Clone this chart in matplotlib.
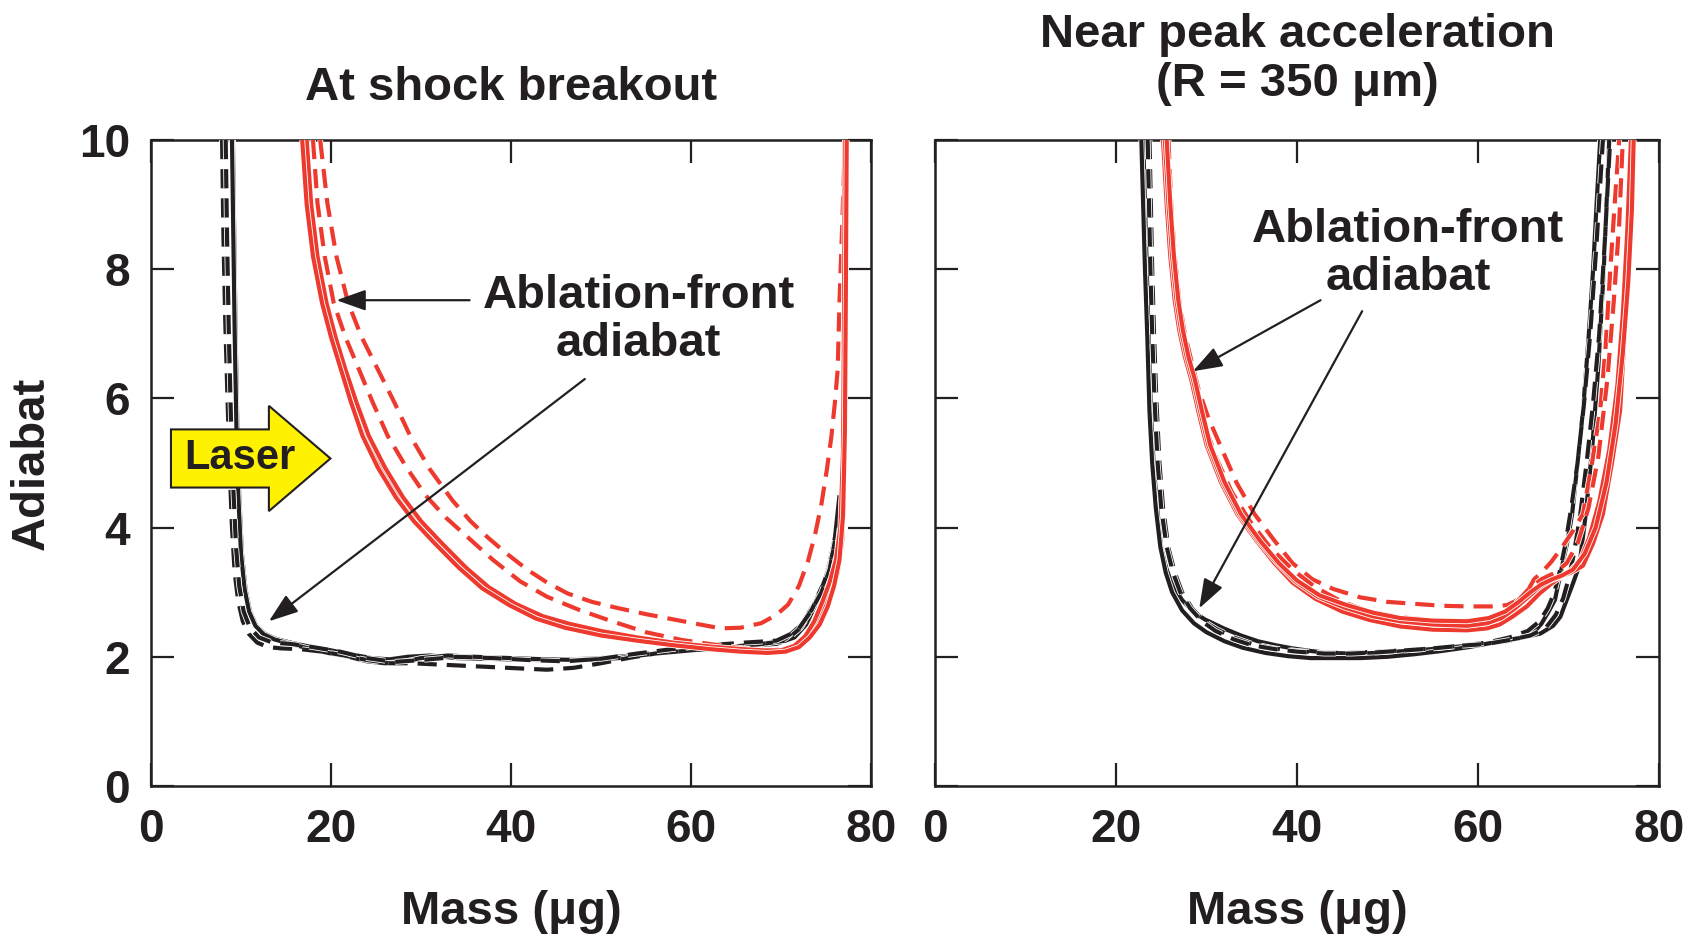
import matplotlib
matplotlib.use("Agg")
import matplotlib.pyplot as plt
import matplotlib.patheffects as pe
from matplotlib.patches import FancyArrow

plt.rcParams['font.family'] = ['Liberation Sans', 'DejaVu Sans']
plt.rcParams['font.weight'] = 'bold'

BLACK = '#231F20'
RED = '#EE3A2E'
YELLOW = '#FFF200'

# ---------------- data ----------------
XTICKS = [0, 20, 40, 60, 80]
YTICKS = [0, 2, 4, 6, 8, 10]
TITLE_L = "At shock breakout"
TITLE_R = "Near peak acceleration\n(R = 350 μm)"
XLABEL = "Mass (μg)"
YLABEL = "Adiabat"
ANNOT = "Ablation-front\nadiabat"

# Left panel (at shock breakout)
L_BS1_M = [9.1, 9.25, 9.4, 9.6, 9.8, 10.1, 10.5, 11.0, 11.7, 12.6, 13.8, 15.5, 17.5, 20.0, 22.5, 24.5, 26.5, 28.5,
           31.0, 34.0, 37.0, 40.0, 43.0, 46.0, 49.0, 52.0, 55.0, 58.0, 61.0, 64.0, 67.0, 69.5, 71.5, 72.8, 73.8,
           74.7, 75.4, 76.0, 76.5]
L_BS1_A = [10, 8.5, 7.0, 5.5, 4.5, 3.6, 3.05, 2.7, 2.48, 2.36, 2.28, 2.22, 2.16, 2.1, 2.03, 1.98, 1.96, 2.0,
           2.02, 1.98, 1.97, 1.96, 1.95, 1.96, 1.97, 2.0, 2.05, 2.08, 2.12, 2.15, 2.18, 2.2, 2.3, 2.5, 2.8,
           3.1, 3.45, 3.85, 4.5]
L_BS2_M = [9.0, 9.15, 9.3, 9.5, 9.7, 10.0, 10.4, 10.9, 11.6, 12.5, 13.7, 15.5, 17.5, 20.0, 22.0, 24.0, 26.0, 28.0,
           30.0, 33.0, 36.0, 40.0, 44.0, 48.0, 52.0, 56.0, 60.0, 64.0, 68.0, 70.5, 72.3, 73.6, 74.6, 75.4, 75.9]
L_BS2_A = [10, 8.5, 7.0, 5.5, 4.5, 3.6, 3.05, 2.7, 2.48, 2.35, 2.27, 2.2, 2.13, 2.05, 2.0, 1.93, 1.9, 1.92,
           1.98, 2.02, 2.0, 1.98, 1.96, 1.95, 1.98, 2.05, 2.1, 2.14, 2.2, 2.28, 2.5, 2.8, 3.1, 3.4, 3.7]
L_BD1_M = [7.9, 8.05, 8.25, 8.5, 8.75, 9.0, 9.3, 9.7, 10.2, 10.9, 11.8, 13.0, 14.5, 16.5, 19.0, 21.5, 24.0, 26.5,
           29.0, 32.0, 35.0, 38.0, 41.0, 44.0, 47.0, 50.0, 53.0, 56.0, 60.0, 64.0, 68.0, 70.5, 72.2, 73.5, 74.5,
           75.3, 75.9]
L_BD1_A = [10, 8.5, 7.2, 6.0, 4.9, 4.0, 3.3, 2.85, 2.55, 2.35, 2.22, 2.15, 2.13, 2.12, 2.08, 2.02, 1.95, 1.9,
           1.9, 1.88, 1.86, 1.84, 1.82, 1.8, 1.83, 1.9, 1.98, 2.05, 2.1, 2.15, 2.2, 2.25, 2.45, 2.75, 3.05,
           3.35, 3.7]
L_BD2_M = [8.3, 8.45, 8.65, 8.9, 9.15, 9.45, 9.8, 10.3, 11.0, 12.0, 13.5, 15.5, 18.0, 21.0, 24.0, 27.0, 30.0, 34.0,
           38.0, 42.0, 46.0, 50.0, 54.0, 58.0, 62.0, 66.0, 69.5, 71.8, 73.3, 74.5, 75.4, 76.0]
L_BD2_A = [10, 8.5, 7.0, 5.6, 4.6, 3.7, 3.1, 2.7, 2.45, 2.3, 2.22, 2.2, 2.15, 2.08, 1.98, 1.92, 1.95, 2.0,
           1.98, 1.95, 1.93, 1.97, 2.05, 2.12, 2.18, 2.22, 2.25, 2.4, 2.7, 3.0, 3.35, 3.8]

L_RS1_M = [17.0, 17.5, 18.2, 19.2, 20.2, 21.3, 22.4, 23.8, 25.5, 27.5, 29.5, 31.8, 34.5, 37.0, 40.0, 43.0, 46.0,
           50.0, 54.0, 58.0, 62.0, 65.5, 68.0, 70.0, 71.5, 72.8, 73.8, 74.8, 75.6, 76.3, 76.8, 77.0, 77.1, 77.2]
L_RS1_A = [10, 9.0, 8.2, 7.48, 6.95, 6.45, 5.95, 5.42, 4.93, 4.47, 4.1, 3.76, 3.38, 3.08, 2.82, 2.62, 2.5,
           2.38, 2.28, 2.2, 2.14, 2.1, 2.07, 2.08, 2.15, 2.3, 2.5, 2.75, 3.0, 3.3, 3.8, 5.0, 7.0, 10.0]
L_RS2_M = [17.3, 17.8, 18.5, 19.5, 20.5, 21.6, 22.8, 24.2, 26.0, 28.0, 30.0, 32.3, 35.0, 37.5, 40.5, 43.5, 46.5,
           50.0, 54.0, 58.0, 62.0, 65.5, 68.0, 70.0, 71.5, 72.7, 73.7, 74.6, 75.4, 76.1, 76.6, 76.9, 77.0, 77.1]
L_RS2_A = [10, 9.0, 8.2, 7.48, 6.95, 6.45, 5.95, 5.42, 4.93, 4.47, 4.1, 3.76, 3.38, 3.08, 2.82, 2.63, 2.51,
           2.4, 2.3, 2.22, 2.16, 2.12, 2.1, 2.1, 2.17, 2.32, 2.55, 2.85, 3.15, 3.5, 4.0, 5.2, 7.2, 10.0]
L_RS3_M = [16.8, 17.3, 18.0, 19.0, 20.0, 21.1, 22.2, 23.5, 25.2, 27.2, 29.2, 31.5, 34.2, 36.8, 39.8, 42.8, 46.0,
           50.0, 54.0, 58.0, 62.0, 65.5, 68.5, 70.5, 72.0, 73.2, 74.3, 75.2, 75.9, 76.5, 76.9, 77.1, 77.2, 77.3]
L_RS3_A = [10, 9.0, 8.2, 7.48, 6.95, 6.45, 5.95, 5.42, 4.93, 4.47, 4.1, 3.76, 3.38, 3.06, 2.8, 2.59, 2.45,
           2.33, 2.25, 2.18, 2.12, 2.08, 2.06, 2.08, 2.15, 2.3, 2.5, 2.78, 3.1, 3.5, 4.2, 5.5, 7.5, 10.0]
L_RD1_M = [18.0, 18.5, 19.3, 20.3, 21.6, 23.1, 24.6, 26.3, 28.3, 30.5, 32.8, 35.2, 38.0, 41.0, 44.0, 47.5, 51.0,
           55.0, 59.0, 63.0, 66.5, 69.0, 71.0, 72.5, 73.7, 74.7, 75.5, 76.2, 76.7, 76.9, 77.1, 77.3]
L_RD1_A = [10, 9.02, 8.2, 7.48, 6.95, 6.45, 5.95, 5.42, 4.95, 4.5, 4.15, 3.85, 3.5, 3.17, 2.93, 2.73, 2.56,
           2.38, 2.26, 2.18, 2.12, 2.1, 2.13, 2.28, 2.5, 2.8, 3.15, 3.6, 4.2, 5.5, 7.5, 10.0]
L_RD2_M = [18.8, 19.6, 20.6, 21.9, 23.4, 25.2, 27.0, 28.8, 31.0, 33.5, 35.5, 37.4, 39.5, 41.8, 44.0, 46.3, 49.0,
           52.0, 55.0, 58.0, 61.0, 63.3, 65.5, 67.8, 69.5, 70.8, 72.0, 73.0, 73.8, 74.5, 75.1, 75.6, 76.0, 76.3,
           76.5, 76.8, 77.1]
L_RD2_A = [10, 9.02, 8.2, 7.48, 6.95, 6.45, 5.95, 5.42, 4.9, 4.42, 4.1, 3.85, 3.6, 3.35, 3.15, 2.98, 2.85,
           2.75, 2.66, 2.58, 2.5, 2.44, 2.45, 2.52, 2.65, 2.81, 3.1, 3.48, 3.9, 4.37, 4.9, 5.41, 5.95, 6.45,
           7.5, 8.67, 10.0]

# Right panel (near peak acceleration)
R_BS1_M = [23.0, 23.2, 23.4, 23.6, 23.85, 24.15, 24.55, 25.0, 25.6, 26.2, 27.3, 28.5, 29.8, 31.9, 33.8, 35.7, 37.6,
           39.5, 41.5, 43.5, 46.0, 49.0, 52.0, 55.0, 58.0, 61.0, 63.5, 65.3, 66.3, 67.0, 67.8, 68.5, 69.3, 69.9,
           70.4, 71.0, 71.6, 72.2, 72.7, 73.1, 73.5]
R_BS1_A = [10, 9.0, 8.0, 7.0, 5.8, 5.0, 4.3, 3.68, 3.35, 3.12, 2.88, 2.7, 2.58, 2.44, 2.33, 2.24, 2.18,
           2.13, 2.09, 2.06, 2.05, 2.06, 2.09, 2.12, 2.16, 2.2, 2.25, 2.32, 2.4, 2.51, 2.7, 2.88, 3.41, 3.8,
           4.21, 5.0, 5.81, 6.9, 7.95, 9.0, 10.0]
R_BS2_M = [22.8, 23.0, 23.2, 23.45, 23.7, 24.0, 24.4, 24.9, 25.5, 26.2, 27.3, 28.6, 30.0, 32.0, 34.0, 36.5, 39.0,
           41.5, 44.0, 47.0, 50.0, 53.0, 56.0, 59.0, 62.4, 65.0, 66.9, 68.3, 69.1, 69.8, 70.4, 71.2, 71.9, 72.6,
           73.3, 73.9, 74.5]
R_BS2_A = [10, 9.0, 8.0, 7.0, 5.8, 5.0, 4.3, 3.7, 3.3, 3.0, 2.72, 2.52, 2.38, 2.24, 2.14, 2.06, 2.01,
           1.98, 1.98, 1.98, 2.0, 2.04, 2.09, 2.15, 2.24, 2.3, 2.36, 2.48, 2.62, 2.88, 3.1, 3.41, 4.2, 5.2,
           6.5, 8.0, 10.0]
R_BD1_M = [23.7, 23.85, 24.0, 24.2, 24.45, 24.8, 25.2, 25.8, 26.5, 27.3, 28.4, 29.7, 31.2, 33.0, 35.0, 37.5, 40.0,
           43.0, 46.0, 49.0, 52.0, 55.0, 58.0, 61.0, 63.5, 65.5, 66.8, 67.7, 68.4, 69.0, 69.6, 70.3, 71.0, 71.7,
           72.4, 73.1, 73.8]
R_BD1_A = [10, 9.0, 8.0, 7.0, 6.0, 5.0, 4.3, 3.68, 3.3, 3.0, 2.75, 2.55, 2.42, 2.3, 2.2, 2.13, 2.09,
           2.06, 2.06, 2.08, 2.1, 2.13, 2.17, 2.22, 2.3, 2.4, 2.55, 2.75, 2.98, 3.3, 3.7, 4.3, 5.0, 5.9,
           7.0, 8.4, 10.0]
R_BD2_M = [23.5, 23.65, 23.8, 24.0, 24.25, 24.6, 25.0, 25.6, 26.3, 27.1, 28.2, 29.5, 31.0, 33.0, 35.0, 37.5, 40.0,
           43.0, 46.0, 49.0, 52.0, 55.0, 58.0, 61.0, 63.5, 65.8, 67.5, 68.6, 69.4, 70.0, 70.6, 71.3, 72.0, 72.7,
           73.4, 74.0, 74.6]
R_BD2_A = [10, 9.0, 8.0, 7.0, 6.0, 5.0, 4.3, 3.7, 3.3, 3.0, 2.75, 2.55, 2.4, 2.27, 2.18, 2.12, 2.08,
           2.05, 2.05, 2.07, 2.1, 2.13, 2.17, 2.2, 2.26, 2.33, 2.45, 2.65, 2.9, 3.2, 3.6, 4.2, 5.0, 5.9,
           7.0, 8.4, 10.0]

R_RS1_M = [25.2, 25.6, 26.0, 26.5, 27.0, 27.6, 28.3, 29.1, 30.0, 31.6, 33.4, 35.5, 37.5, 39.5, 42.0, 45.0, 48.0,
           51.4, 55.0, 58.8, 61.0, 62.4, 63.8, 65.4, 66.8, 68.0, 69.3, 70.5, 71.6, 72.7, 73.8, 74.8, 75.7, 76.2,
           76.6, 76.9]
R_RS1_A = [10, 9.0, 8.2, 7.5, 7.05, 6.65, 6.3, 5.8, 5.28, 4.7, 4.21, 3.8, 3.45, 3.15, 2.9, 2.7, 2.57,
           2.47, 2.42, 2.41, 2.44, 2.5, 2.62, 2.78, 2.98, 3.12, 3.25, 3.32, 3.41, 3.75, 4.21, 5.0, 5.81, 7.0,
           8.5, 10.0]
R_RS2_M = [25.4, 25.8, 26.2, 26.7, 27.2, 27.8, 28.5, 29.3, 30.2, 31.8, 33.6, 35.7, 37.8, 39.8, 42.3, 45.3, 48.3,
           51.4, 55.0, 58.8, 61.0, 62.6, 64.0, 65.5, 66.8, 68.0, 69.3, 70.3, 71.3, 72.3, 73.4, 74.5, 75.4, 76.0,
           76.5, 76.9]
R_RS2_A = [10, 9.0, 8.2, 7.5, 7.05, 6.65, 6.3, 5.8, 5.28, 4.7, 4.21, 3.8, 3.45, 3.17, 2.93, 2.76, 2.63,
           2.55, 2.5, 2.48, 2.52, 2.6, 2.74, 2.92, 3.08, 3.18, 3.25, 3.35, 3.5, 3.85, 4.4, 5.2, 6.2, 7.3,
           8.6, 10.0]
R_RS3_M = [25.6, 26.0, 26.4, 26.9, 27.4, 28.0, 28.7, 29.5, 30.4, 32.0, 33.8, 35.9, 38.0, 40.0, 42.5, 45.5, 48.5,
           51.4, 55.0, 58.8, 61.2, 63.0, 64.5, 65.8, 67.0, 68.2, 69.3, 70.5, 71.8, 73.0, 74.2, 75.2, 76.0, 76.6,
           77.0, 77.2]
R_RS3_A = [10, 9.0, 8.2, 7.5, 7.05, 6.65, 6.3, 5.8, 5.28, 4.7, 4.21, 3.8, 3.45, 3.18, 2.95, 2.8, 2.68,
           2.6, 2.56, 2.55, 2.6, 2.7, 2.85, 3.0, 3.12, 3.2, 3.26, 3.35, 3.6, 4.0, 4.7, 5.6, 6.7, 7.8,
           8.9, 10.0]
R_RD1_M = [25.8, 26.1, 26.5, 27.0, 27.6, 28.3, 29.1, 30.2, 31.5, 33.3, 35.3, 37.5, 39.5, 41.7, 44.0, 47.0, 50.0,
           53.0, 56.0, 58.8, 61.5, 63.2, 64.4, 65.4, 66.2, 67.2, 68.1, 69.3, 70.5, 71.6, 72.6, 73.5, 74.1, 74.6,
           75.1, 75.6]
R_RD1_A = [10, 9.0, 8.2, 7.5, 7.0, 6.6, 6.15, 5.7, 5.28, 4.7, 4.21, 3.8, 3.45, 3.2, 3.05, 2.92, 2.85,
           2.82, 2.79, 2.78, 2.78, 2.8, 2.88, 3.0, 3.2, 3.33, 3.47, 3.7, 3.95, 4.21, 5.0, 5.81, 6.8, 7.95,
           9.0, 10.0]
R_RD2_M = [25.5, 25.8, 26.2, 26.7, 27.3, 28.0, 28.8, 29.8, 31.0, 32.8, 34.8, 37.0, 39.5, 42.0, 45.0, 48.0, 51.0,
           54.5, 58.0, 61.0, 62.8, 64.3, 65.6, 67.0, 68.5, 69.8, 71.0, 72.2, 73.3, 74.3, 75.0, 75.6, 76.0]
R_RD2_A = [10, 9.0, 8.2, 7.5, 7.0, 6.55, 6.1, 5.6, 5.1, 4.55, 4.1, 3.7, 3.35, 3.08, 2.85, 2.7, 2.62,
           2.57, 2.55, 2.58, 2.68, 2.85, 3.05, 3.2, 3.3, 3.45, 3.75, 4.3, 5.1, 6.3, 7.5, 8.7, 10.0]

# annotation anchors (data coords)
L_TEXT_XY = (54.2, 7.22)
L_ARROW1 = ((35.4, 7.52), (20.6, 7.52))
L_ARROW2 = ((48.2, 6.30), (13.1, 2.55))
R_TEXT_XY = (52.3, 8.23)
R_ARROW1 = ((42.6, 7.52), (28.5, 6.42))
R_ARROW2 = ((47.2, 7.35), (29.2, 2.75))
LASER_X0, LASER_TIP, LASER_Y = 2.22, 19.94, 5.07

# ---------------- figure ----------------
fig = plt.figure(figsize=(16.88, 9.36), dpi=100)
axL = fig.add_axes([0.08945, 0.16026, 0.42654, 0.69017])
axR = fig.add_axes([0.55391, 0.16026, 0.42891, 0.69017])

LW = 3.0
outline = [pe.Stroke(linewidth=LW + 1.2, foreground='white'), pe.Normal()]


def curve(ax, m, a, color, dashed):
    kw = dict(color=color, lw=LW, solid_capstyle='butt', zorder=3, path_effects=outline, clip_on=True)
    if dashed:
        kw['dashes'] = (4.6, 2.4)
    ax.plot(m, a, **kw)


def style(ax, show_y):
    ax.set_xlim(0, 80)
    ax.set_ylim(0, 10)
    ax.set_xticks(XTICKS)
    ax.set_yticks(YTICKS)
    ax.tick_params(direction='in', length=16.5, width=1.6, top=True, right=True,
                   labelsize=33, colors=BLACK, labelleft=show_y)
    ax.tick_params(axis='x', pad=16)
    ax.tick_params(axis='y', pad=15)
    for s in ax.spines.values():
        s.set_linewidth(1.8)
        s.set_color(BLACK)
    for lbl in ax.get_xticklabels() + ax.get_yticklabels():
        lbl.set_fontweight('bold')
    ax.text(0.5, -0.195, XLABEL, transform=ax.transAxes, ha='center', va='center',
            fontsize=34, fontweight='bold', color=BLACK)


def arrow(ax, start, end):
    ax.annotate('', xy=end, xytext=start,
                arrowprops=dict(arrowstyle='-|>,head_length=0.9,head_width=0.32', lw=1.6,
                                color=BLACK, shrinkA=0, shrinkB=0, mutation_scale=20),
                zorder=6)


# left panel
for m, a in [(L_BS1_M, L_BS1_A), (L_BS2_M, L_BS2_A)]:
    curve(axL, m, a, BLACK, False)
for m, a in [(L_BD1_M, L_BD1_A), (L_BD2_M, L_BD2_A)]:
    curve(axL, m, a, BLACK, True)
for m, a in [(L_RD1_M, L_RD1_A), (L_RD2_M, L_RD2_A)]:
    curve(axL, m, a, RED, True)
for m, a in [(L_RS1_M, L_RS1_A), (L_RS2_M, L_RS2_A), (L_RS3_M, L_RS3_A)]:
    curve(axL, m, a, RED, False)

style(axL, True)
axL.text(0.5, 1.08, TITLE_L, transform=axL.transAxes, ha='center', va='center',
         fontsize=34, fontweight='bold', color=BLACK)
axL.text(*L_TEXT_XY, ANNOT, ha='center', va='center', fontsize=34, fontweight='bold',
         color=BLACK, linespacing=1.12, zorder=6)
arrow(axL, *L_ARROW1)
arrow(axL, *L_ARROW2)

laser = FancyArrow(LASER_X0, LASER_Y, LASER_TIP - LASER_X0, 0, width=0.9, head_width=1.63,
                   head_length=6.84, length_includes_head=True, fc=YELLOW, ec=BLACK, lw=1.5, zorder=7)
axL.add_patch(laser)
axL.text(9.9, LASER_Y, 'Laser', ha='center', va='center', fontsize=30, fontweight='bold',
         color=BLACK, zorder=8)

# right panel
for m, a in [(R_BS1_M, R_BS1_A), (R_BS2_M, R_BS2_A)]:
    curve(axR, m, a, BLACK, False)
for m, a in [(R_BD1_M, R_BD1_A), (R_BD2_M, R_BD2_A)]:
    curve(axR, m, a, BLACK, True)
for m, a in [(R_RD1_M, R_RD1_A), (R_RD2_M, R_RD2_A)]:
    curve(axR, m, a, RED, True)
for m, a in [(R_RS1_M, R_RS1_A), (R_RS2_M, R_RS2_A), (R_RS3_M, R_RS3_A)]:
    curve(axR, m, a, RED, False)

style(axR, False)
axR.text(0.5, 1.125, TITLE_R, transform=axR.transAxes, ha='center', va='center',
         fontsize=34, fontweight='bold', color=BLACK, linespacing=1.15)
axR.text(*R_TEXT_XY, ANNOT, ha='center', va='center', fontsize=34, fontweight='bold',
         color=BLACK, linespacing=1.12, zorder=6)
arrow(axR, *R_ARROW1)
arrow(axR, *R_ARROW2)

fig.text(0.0191, 0.5053, YLABEL, rotation=90, ha='center', va='center',
         fontsize=34, fontweight='bold', color=BLACK)

fig.savefig('out.png', dpi=100)
